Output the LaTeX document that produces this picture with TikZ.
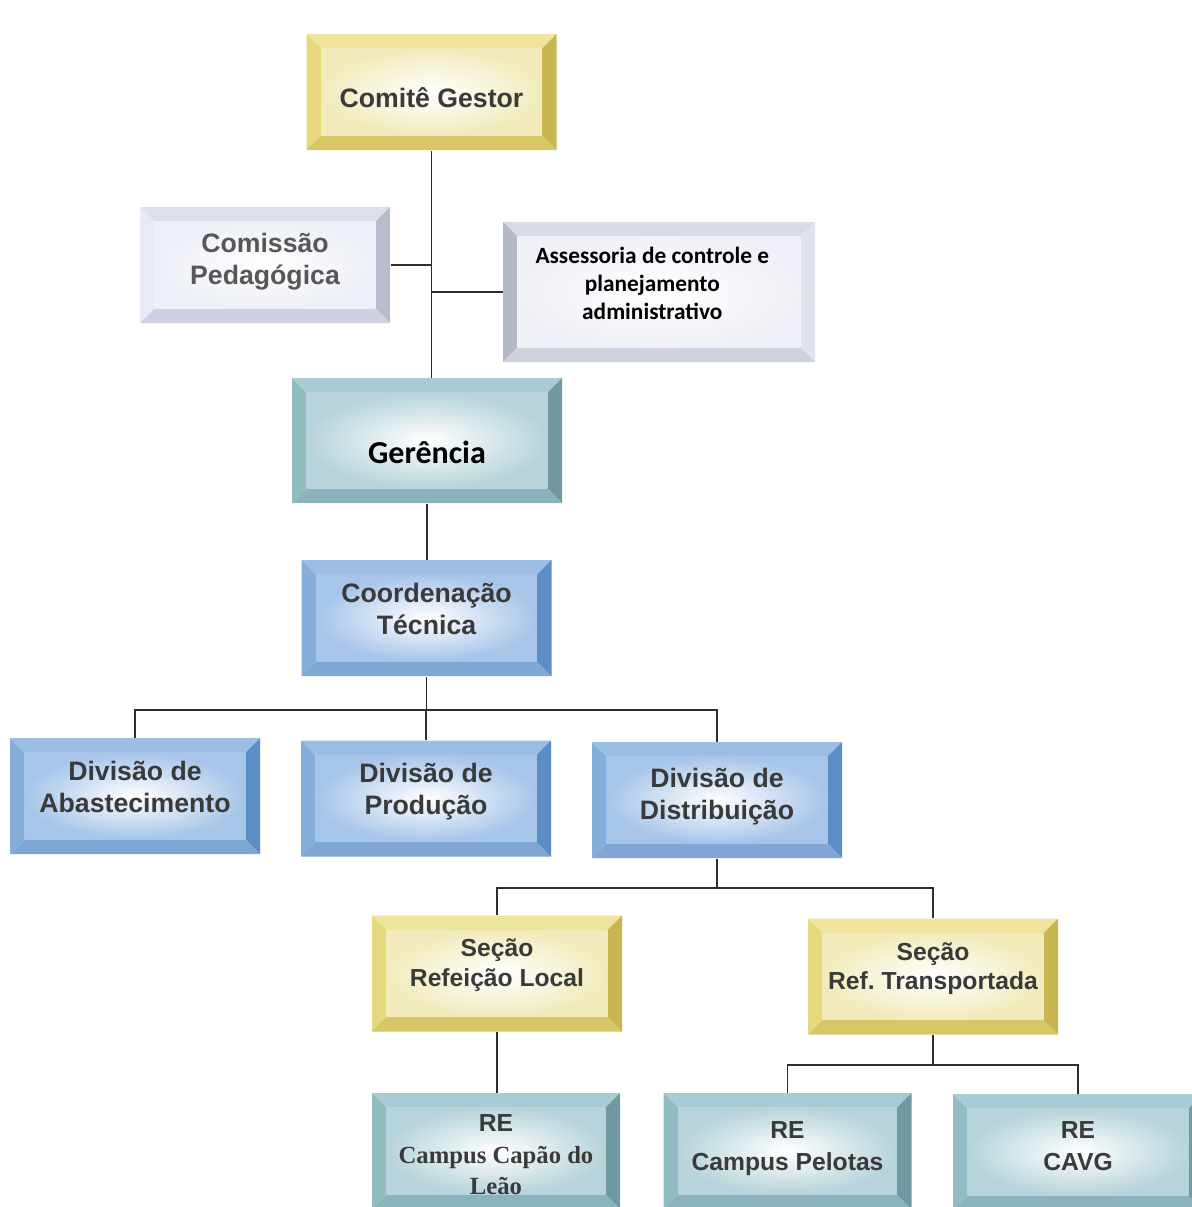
\documentclass[tikz,border=0pt]{standalone}
\usepackage{fontspec}
\setmainfont{Liberation Sans}
\newfontfamily\carlitofont{Carlito}
\newfontfamily\seriffont{Liberation Serif}
\frenchspacing

\definecolor{txtgray}{HTML}{3A3A3A}
\definecolor{linegray}{HTML}{2E2E2E}
% yellow frames
\definecolor{yeltop}{HTML}{EFE49B}
\definecolor{yelleft}{HTML}{E6D87C}
\definecolor{yelright}{HTML}{C9B650}
\definecolor{yelbot}{HTML}{D8C766}
\definecolor{yelin}{HTML}{F1EBBB}
% lavender frames
\definecolor{lavtop}{HTML}{DCDFEE}
\definecolor{lavleft}{HTML}{E8EAF4}
\definecolor{lavright}{HTML}{B8BBCB}
\definecolor{lavbot}{HTML}{CDD0E0}
\definecolor{lavin}{HTML}{EEF0F8}
% grey frame
\definecolor{grytop}{HTML}{D9DBE8}
\definecolor{gryleft}{HTML}{B5B8C6}
\definecolor{gryright}{HTML}{E0E2EE}
\definecolor{grybot}{HTML}{CFD1DF}
\definecolor{gryin}{HTML}{F0F1F8}
% teal frames
\definecolor{teatop}{HTML}{A8CCD3}
\definecolor{tealeft}{HTML}{92BCC4}
\definecolor{tearight}{HTML}{7099A2}
\definecolor{teabot}{HTML}{8AB3BB}
\definecolor{teain}{HTML}{B7D4DA}
% blue frames
\definecolor{blutop}{HTML}{9CBEE4}
\definecolor{bluleft}{HTML}{86AEDB}
\definecolor{bluright}{HTML}{5B8DC6}
\definecolor{blubot}{HTML}{7EA7D6}
\definecolor{bluin}{HTML}{A6C5E9}

% bevelled frame drawn inside a node
\newcommand{\bevelfill}[1]{%
  \coordinate (bl) at (path picture bounding box.south west);
  \coordinate (tr) at (path picture bounding box.north east);
  \coordinate (tl) at (bl |- tr);
  \coordinate (br) at (tr |- bl);
  \coordinate (ibl) at ([shift={(11pt,11pt)}]bl);
  \coordinate (itr) at ([shift={(-11pt,-11pt)}]tr);
  \coordinate (itl) at (ibl |- itr);
  \coordinate (ibr) at (itr |- ibl);
  \fill[#1top] (tl) -- (tr) -- (itr) -- (itl) -- cycle;
  \fill[#1left] (tl) -- (itl) -- (ibl) -- (bl) -- cycle;
  \fill[#1right] (tr) -- (br) -- (ibr) -- (itr) -- cycle;
  \fill[#1bot] (bl) -- (ibl) -- (ibr) -- (br) -- cycle;
  \shade[inner color=white, outer color=#1in] (ibl) rectangle (itr);
}
% text block moved up or down inside its frame
\newcommand{\liftup}[2]{\raisebox{#1}[\height][\depth]{\begin{tabular}{@{}c@{}}#2\end{tabular}}}

\tikzset{
  every picture/.style={line width=0.75pt},
  bevel/.style={rectangle, minimum width=187.5pt, minimum height=87pt,
    inner sep=0pt, align=center, text=txtgray,
    font=\bfseries\fontsize{20}{24}\selectfont,
    path picture={\bevelfill{#1}}},
  small/.style={font=\bfseries\fontsize{18.5}{22}\selectfont},
  conn/.style={draw=linegray, line width=1.3pt}
}

\begin{document}
\begin{tikzpicture}[x=0.75pt,y=0.75pt,yscale=-1,xscale=1]
\clip (0,0) rectangle (1192,1207);
\useasboundingbox (0,0) rectangle (1192,1207);

% Top of the chart
\node[bevel=yel] (comite) at (431.5,92) {\liftup{-6.5pt}{Comitê Gestor}};
\node[bevel=lav, text=txtgray!85] (comissao) at (265,265) {\liftup{2.5pt}{Comissão\\Pedagógica}};
\node[bevel=gry, minimum width=234pt, minimum height=105pt, text=black,
  font=\carlitofont\bfseries\fontsize{17.5}{21}\selectfont] (assessoria) at (659,292)
  {\hspace*{-10pt}\liftup{4.5pt}{Assessoria de controle e\\planejamento\\administrativo}};
\node[bevel=tea, minimum width=202.5pt, minimum height=93.75pt, text=black,
  font=\carlitofont\bfseries\fontsize{24}{28}\selectfont] (gerencia) at (427,440.5)
  {\liftup{-12pt}{Gerência}};

% Coordination and divisions
\node[bevel=blu] (coord) at (426.5,618) {\liftup{4.5pt}{Coordenação\\Técnica}};
\node[bevel=blu] (abast) at (135,796) {\liftup{4.5pt}{Divisão de\\Abastecimento}};
\node[bevel=blu] (prod) at (426,798.5) {\liftup{4.5pt}{Divisão de\\Produção}};
\node[bevel=blu] (distr) at (717,800) {\liftup{2.5pt}{Divisão de\\Distribuição}};

% Sections
\node[bevel=yel, small] (refloc) at (497,973.5) {\liftup{6pt}{Seção\\Refeição Local}};
\node[bevel=yel, small] (reftr) at (933,976.5) {\liftup{5.5pt}{Seção\\Ref. Transportada}};

% Restaurants
\node[bevel=tea, minimum width=186pt, font=\bfseries\fontsize{18.5}{23.5}\selectfont] (capao) at (496,1151)
  {\liftup{-4.5pt}{RE\\{\seriffont Campus Capão do}\\{\seriffont Leão}}};
\node[bevel=tea, minimum width=186pt, font=\bfseries\fontsize{18.5}{24}\selectfont] (pelotas) at (787.5,1151)
  {\liftup{2pt}{RE\\Campus Pelotas}};
\node[bevel=tea, font=\bfseries\fontsize{18.5}{24}\selectfont] (cavg) at (1078,1152)
  {\liftup{3pt}{RE\\CAVG}};

% Connectors
\coordinate (busdiv) at (427,710);
\coordinate (bussec) at (717,888);
\coordinate (busre) at (935,1065);
\draw[conn] (comite.south) -- (comite.south |- gerencia.north);
\draw[conn] (comissao.east) -- (comissao.east -| comite.south);
\draw[conn] (assessoria.west) -- (assessoria.west -| comite.south);
\draw[conn] (gerencia.south) -- (gerencia.south |- coord.north);
\draw[conn] (coord.south) -- (coord.south |- busdiv);
\draw[conn] (abast.north) |- (busdiv) -| (distr.north);
\draw[conn] (prod.north) -- (prod.north |- busdiv);
\draw[conn] (distr.south) -- (distr.south |- bussec);
\draw[conn] (refloc.north) |- (bussec) -| (reftr.north);
\draw[conn] (refloc.south) -- (refloc.south |- capao.north);
\draw[conn] (reftr.south) -- (reftr.south |- busre);
\draw[conn] (pelotas.north) |- (busre) -| (cavg.north);

\end{tikzpicture}
\end{document}
